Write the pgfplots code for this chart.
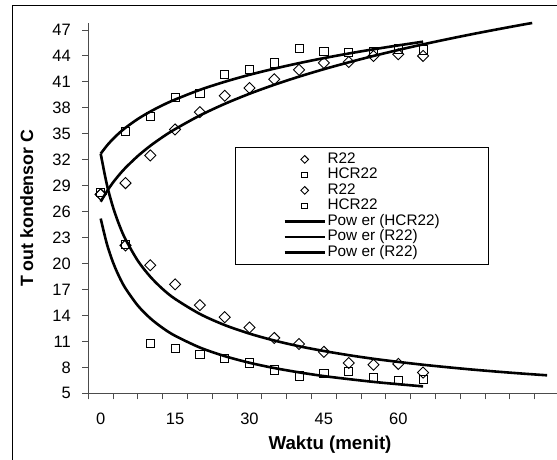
\documentclass[border=0pt]{standalone}
\usepackage{pgfplots}
\pgfplotsset{compat=1.18}
\usepackage{fontspec}
\setmainfont{Liberation Sans}

\pgfplotsset{
  leg/.style={legend image code/.code={
    \draw[mark repeat=2,mark phase=2,##1] plot coordinates {(0pt,0pt) (20pt,0pt) (40pt,0pt)};}},
  dia/.style={only marks, mark=square, mark size=3.9pt,
    mark options={rotate=45, line width=0.9pt, black}, leg,
    legend image post style={mark size=2.7pt}},
  sqr/.style={only marks, mark=square, mark size=4.1pt,
    mark options={line width=0.9pt, black}, leg,
    legend image post style={mark size=2.9pt}},
  trend/.style={black, line width=2.6pt, no marks, smooth, leg},
}

\begin{document}
\begin{tikzpicture}
\useasboundingbox (-88.3pt,-66.7pt) rectangle (468.7pt,393.3pt);
\begin{axis}[
  at={(0pt,0pt)}, anchor=south west,
  scale only axis, width=468.7pt, height=370pt,
  xmin=-2.5, xmax=92, ymin=5, ymax=47.775,
  clip=false,
  axis x line*=bottom, axis y line*=left,
  axis line style={black!70, line width=0.9pt},
  tick style={black!70, line width=0.9pt},
  tick align=outside,
  major tick length=6pt,
  xtick={-2.5,2.5,...,87.5},
  xticklabels={},
  extra x ticks={0,15,30,45,60},
  extra x tick labels={0,15,30,45,60},
  extra x tick style={major tick length=0pt},
  ytick={5,8,...,47},
  /pgf/number format/assume math mode=true,
  tick label style={font=\fontsize{16.5}{18}\selectfont},
  xticklabel style={yshift=-16.5pt},
  yticklabel style={xshift=-8pt},
  xlabel={Waktu (menit)},
  ylabel={T out kondensor C},
  xlabel style={font=\fontsize{18.7}{20}\selectfont\bfseries,
    at={(axis description cs:0.5157,-0.1532)}, anchor=base},
  ylabel style={font=\fontsize{17.8}{20}\selectfont\bfseries,
    at={(axis description cs:-0.1314,0.5)}, anchor=center},
  legend style={at={(axis description cs:0.313,0.6657)}, anchor=north west,
    draw=black, line width=0.8pt, fill=white,
    font=\fontsize{15.3}{15}\selectfont,
    inner xsep=48pt, inner ysep=5pt, row sep=1.5pt, column sep=1pt,
    nodes={inner sep=0.5pt, text height=10.5pt, text depth=2.5pt},
    cells={anchor=west}},
]
% R22 naik
\addplot[dia] coordinates {
 (0,28.0) (5,29.3) (10,32.5) (15,35.5) (20,37.5) (25,39.4) (30,40.3)
 (35,41.3) (40,42.4) (45,43.2) (50,43.3) (55,44.0) (60,44.2) (65,44.0)};
\addlegendentry{R22}
% HCR22 naik
\addplot[sqr] coordinates {
 (0,28.2) (5,35.3) (10,37.0) (15,39.2) (20,39.7) (25,41.9) (30,42.4)
 (35,43.2) (40,44.9) (45,44.5) (50,44.4) (55,44.5) (60,44.8) (65,44.7)};
\addlegendentry{HCR22}
% R22 turun
\addplot[dia] coordinates {
 (0,28.0) (5,22.1) (10,19.8) (15,17.6) (20,15.2) (25,13.8) (30,12.6)
 (35,11.4) (40,10.7) (45,9.8) (50,8.5) (55,8.3) (60,8.4) (65,7.4)};
\addlegendentry{R22}
% HCR22 turun
\addplot[sqr] coordinates {
 (0,28.2) (5,22.2) (10,10.8) (15,10.2) (20,9.5) (25,9.0) (30,8.5)
 (35,7.7) (40,7.0) (45,7.3) (50,7.5) (55,6.8) (60,6.45) (65,6.6)};
\addlegendentry{HCR22}
% trendlines (power)
\addplot[trend] coordinates {
 (0,32.70) (1.25,33.63) (2.5,34.42) (3.75,35.10) (5,35.70) (7.5,36.72)
 (10,37.57) (12.5,38.31) (15,38.96) (20,40.08) (25,41.01) (30,41.82)
 (35,42.53) (40,43.17) (45,43.75) (50,44.28) (55,44.77) (60,45.22) (65,45.65)};
\addlegendentry{Pow er (HCR22)}
\addplot[trend] coordinates {
 (0,27.15) (1.25,28.35) (2.5,29.38) (3.75,30.27) (5,31.07) (7.5,32.44)
 (10,33.61) (12.5,34.63) (15,35.54) (20,37.12) (25,38.46) (30,39.63)
 (35,40.67) (40,41.61) (45,42.47) (50,43.26) (55,44.00) (60,44.69)
 (65,45.34) (70,45.95) (75,46.53) (80,47.08) (85,47.61) (87,47.81)};
\addlegendentry{Pow er (R22)}
\addplot[trend] coordinates {
 (0,32.70) (1.25,29.12) (2.5,26.49) (3.75,24.45) (5,22.81) (7.5,20.31)
 (10,18.48) (12.5,17.05) (15,15.91) (20,14.17) (25,12.89) (30,11.90)
 (35,11.10) (40,10.44) (45,9.89) (50,9.41) (55,8.99) (60,8.63)
 (65,8.30) (70,8.01) (75,7.74) (80,7.50) (85,7.28) (90,7.08)};
\addlegendentry{Pow er (R22)}
\addplot[trend, forget plot] coordinates {
 (0,25.20) (1.25,22.26) (2.5,20.11) (3.75,18.46) (5,17.13) (7.5,15.13)
 (10,13.67) (12.5,12.55) (15,11.65) (20,10.29) (25,9.30) (30,8.53)
 (35,7.92) (40,7.42) (45,6.99) (50,6.64) (55,6.32) (60,6.05) (65,5.80)};
\end{axis}
\draw[line width=1.5pt] (-76pt,-80pt) -- (-76pt,388pt) -- (480pt,388pt);
\end{tikzpicture}
\end{document}
